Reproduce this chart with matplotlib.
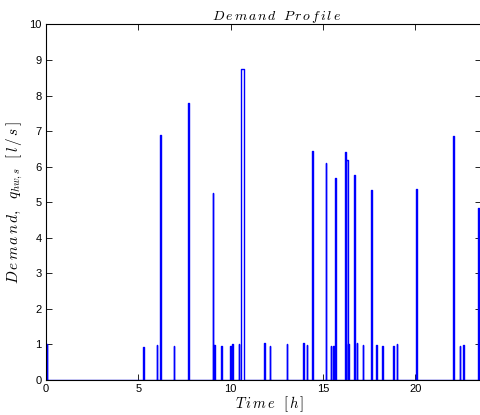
import matplotlib
matplotlib.use("Agg")
import matplotlib.pyplot as plt
import numpy as np

# pulse start times [h], durations [h] and flow [l/s]
starts = [0.05, 5.27, 5.99, 6.16, 6.91, 7.67, 9.02, 9.11, 9.50, 9.99, 10.10,
          10.45, 10.55, 11.83, 12.12, 13.04, 13.94, 14.12, 14.42, 15.14, 15.42,
          15.55, 15.65, 16.20, 16.27, 16.38, 16.70, 16.82, 17.15, 17.60, 17.90,
          18.20, 18.80, 19.00, 20.02, 22.06, 22.40, 22.60, 23.40]
durations = [0.03, 0.03, 0.03, 0.09, 0.03, 0.10, 0.04, 0.03, 0.03, 0.03, 0.04,
             0.03, 0.18, 0.03, 0.03, 0.03, 0.03, 0.03, 0.05, 0.05, 0.03,
             0.03, 0.05, 0.07, 0.06, 0.03, 0.05, 0.03, 0.03, 0.05, 0.03,
             0.03, 0.03, 0.03, 0.05, 0.05, 0.03, 0.03, 0.05]
flows = [1.00, 0.92, 0.98, 6.90, 0.97, 7.78, 5.26, 0.98, 0.96, 0.95, 1.00,
         1.00, 8.75, 1.05, 0.96, 1.00, 1.05, 0.98, 6.44, 6.10, 0.96,
         0.96, 5.68, 6.41, 6.19, 1.02, 5.76, 1.04, 0.99, 5.34, 0.98,
         0.96, 0.97, 1.00, 5.38, 6.86, 0.96, 0.99, 4.84]

t_end = 23.56

# build the step signal
t = [0.0]
q = [0.0]
for s, d, h in zip(starts, durations, flows):
    t += [s, s, s + d, s + d]
    q += [0.0, h, h, 0.0]
t.append(t_end)
q.append(0.0)


def spaced(word):
    # matlab's latex interpreter spreads the italic letters out
    return r'\,'.join(word)


plt.rcParams['mathtext.fontset'] = 'cm'
plt.rcParams['font.family'] = ['Liberation Sans', 'DejaVu Sans']

fig = plt.figure(figsize=(4.81, 4.15), dpi=100)
ax = fig.add_axes([0.0956, 0.0843, 1 - 0.0956, 0.941 - 0.0843])

ax.plot(t, q, color='#0000ff', linewidth=1.0)

ax.set_xlim(0, t_end)
ax.set_ylim(0, 10)
ax.set_xticks([0, 5, 10, 15, 20])
ax.set_yticks(range(0, 11))
ax.tick_params(direction='in', top=True, right=True, labelsize=8,
               length=4, width=0.6, pad=3)
for sp in ax.spines.values():
    sp.set_linewidth(0.8)

title = '$' + spaced('Demand') + r'\ \ ' + spaced('Profile') + '$'
xlab = '$' + spaced('Time') + r'\ \ [\,h\,]$'
ylab = ('$' + spaced('Demand') + r',\ \ q_{hw,s}\ \ [\,' +
        r'l\,/\,s' + r'\,]$')

# the original figure was cropped on the right, so the texts sit off-centre
ax.set_title(title, fontsize=10, pad=3, x=0.53)
ax.set_xlabel(xlab, fontsize=10.5, labelpad=0, x=0.515)
ax.set_ylabel(ylab, fontsize=11, labelpad=3)

fig.savefig('out.png', dpi=100)
